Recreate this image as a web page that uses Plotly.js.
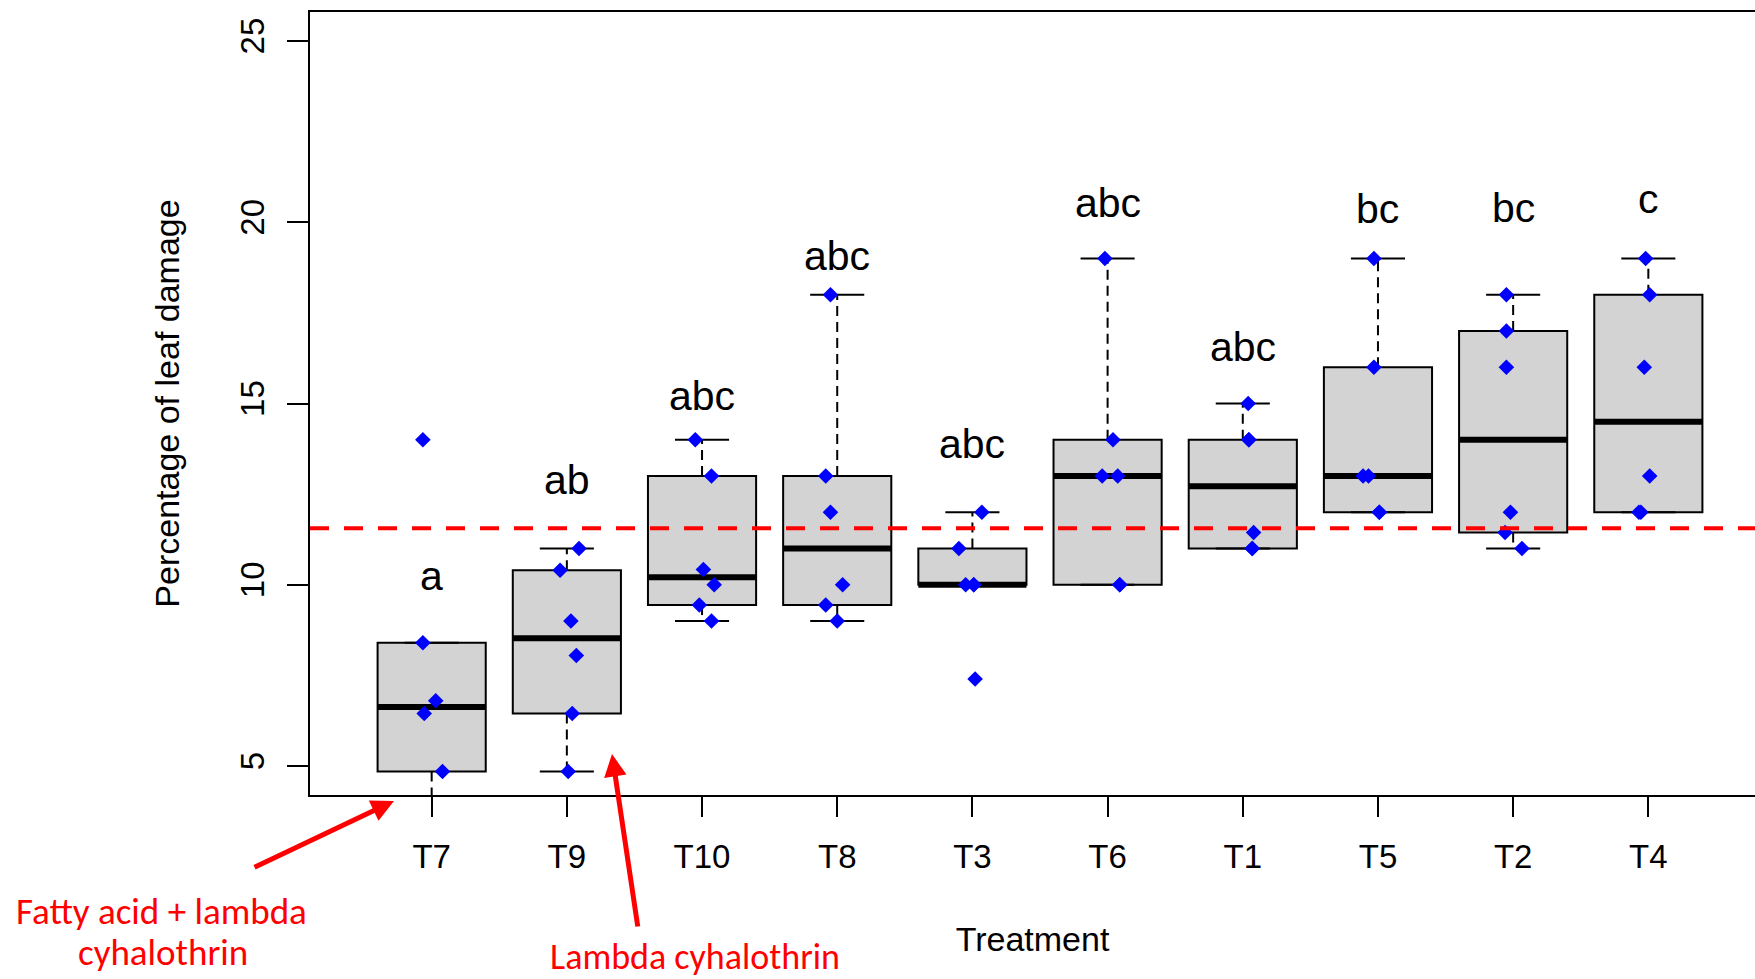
<!DOCTYPE html>
<html>
<head>
<meta charset="utf-8">
<script src="https://cdn.plot.ly/plotly-3.0.1.min.js"></script>
<style>
  html, body { margin: 0; padding: 0; background: #ffffff; }
  #chart { width: 1755px; height: 979px; }
</style>
</head>
<body>
<div id="chart"></div>
<script>
// ---------------- data ----------------
const treatments = ['T7', 'T9', 'T10', 'T8', 'T3', 'T6', 'T1', 'T5', 'T2', 'T4'];

// percentage of leaf damage, one replicate per value
const damageT7  = [3.5, 4.85, 6.45, 6.8, 8.4, 14];
const damageT9  = [4.85, 6.45, 8.05, 9.0, 10.4, 11];
const damageT10 = [9.0, 9.44, 10.0, 10.42, 13.0, 14.0];
const damageT8  = [9.0, 9.44, 10.0, 12.0, 13.0, 18.0];
const damageT3  = [7.4, 10, 10, 10, 11, 12];
const damageT6  = [10, 10, 13, 13, 14, 19];
const damageT1  = [11, 11, 11.44, 14, 14, 15];
const damageT5  = [12, 12, 13, 13, 16, 19];
const damageT2  = [11, 11.44, 12, 16, 17, 18];
const damageT4  = [12, 12, 13, 16, 18, 19];

// horizontal jitter of each replicate point (category units)
const jitterT7  = [0, 0.08, -0.055, 0.03, -0.065, -0.065];
const jitterT9  = [0.01, 0.04, 0.07, 0.03, -0.05, 0.09];
const jitterT10 = [0.07, -0.02, 0.09, 0.01, 0.07, -0.05];
const jitterT8  = [0, -0.085, 0.04, -0.05, -0.085, -0.05];
const jitterT3  = [0.02, -0.05, 0.01, 0.01, -0.10, 0.07];
const jitterT6  = [0.09, 0.09, -0.04, 0.075, 0.04, -0.02];
const jitterT1  = [0.07, 0.07, 0.08, 0.045, 0.045, 0.04];
const jitterT5  = [0.01, 0.01, -0.11, -0.07, -0.03, -0.03];
const jitterT2  = [0.065, -0.06, -0.02, -0.05, -0.05, -0.05];
const jitterT4  = [-0.07, -0.055, 0.01, -0.03, 0.01, -0.02];

// significance letters and the height of their baseline
const letters = ['a', 'ab', 'abc', 'abc', 'abc', 'abc', 'abc', 'bc', 'bc', 'c'];
const letterY = [9.82, 12.47, 14.78, 18.66, 13.47, 20.13, 16.14, 19.95, 19.97, 20.24];

// red dashed reference level
const referenceLevel = 11.56;

const yTicks = [5, 10, 15, 20, 25];

// ---------------- helpers ----------------
const damage = [damageT7, damageT9, damageT10, damageT8, damageT3, damageT6, damageT1, damageT5, damageT2, damageT4];
const jitter = [jitterT7, jitterT9, jitterT10, jitterT8, jitterT3, jitterT6, jitterT1, jitterT5, jitterT2, jitterT4];
const pos = treatments.map((_, i) => i + 1);

function fivenum(v) {
  const s = [...v].sort((a, b) => a - b);
  const n = s.length;
  const n4 = Math.floor((n + 3) / 2) / 2;
  const d = [1, n4, (n + 1) / 2, n + 1 - n4, n];
  return d.map(di => 0.5 * (s[Math.floor(di) - 1] + s[Math.ceil(di) - 1]));
}
const stats = damage.map(v => {
  const f = fivenum(v);
  const iqr = f[3] - f[1];
  const inside = v.filter(x => x >= f[1] - 1.5 * iqr && x <= f[3] + 1.5 * iqr);
  return { q1: f[1], med: f[2], q3: f[3], lo: Math.min(...inside), hi: Math.max(...inside) };
});

const BOXW = 0.8, CAPW = 0.4;

// whiskers (dashed)
const wx = [], wy = [];
stats.forEach((s, i) => {
  wx.push(pos[i], pos[i], null, pos[i], pos[i], null);
  wy.push(s.q3, s.hi, null, s.q1, s.lo, null);
});
// staples
const cx = [], cy = [];
stats.forEach((s, i) => {
  cx.push(pos[i] - CAPW / 2, pos[i] + CAPW / 2, null, pos[i] - CAPW / 2, pos[i] + CAPW / 2, null);
  cy.push(s.hi, s.hi, null, s.lo, s.lo, null);
});
// medians (thick)
const mx = [], my = [];
stats.forEach((s, i) => {
  mx.push(pos[i] - BOXW / 2, pos[i] + BOXW / 2, null);
  my.push(s.med, s.med, null);
});
// points
const px = [], py = [];
damage.forEach((v, i) => v.forEach((y, j) => { px.push(pos[i] + jitter[i][j]); py.push(y); }));

const traces = [
  { type: 'scatter', mode: 'lines', x: wx, y: wy, hoverinfo: 'skip',
    line: { color: '#000000', width: 2, dash: '10px,6px' } },
  { type: 'scatter', mode: 'lines', x: cx, y: cy, hoverinfo: 'skip',
    line: { color: '#000000', width: 2 } },
  { type: 'box', x: pos,
    q1: stats.map(s => s.q1), median: stats.map(s => s.med), q3: stats.map(s => s.q3),
    lowerfence: stats.map(s => s.q1), upperfence: stats.map(s => s.q3),
    width: BOXW, whiskerwidth: 0, boxpoints: false,
    fillcolor: '#D3D3D3', line: { color: '#000000', width: 2 } },
  { type: 'scatter', mode: 'lines', x: mx, y: my, hoverinfo: 'skip',
    line: { color: '#000000', width: 6 } },
  { type: 'scatter', mode: 'markers', x: px, y: py,
    marker: { symbol: 'diamond', size: 12, color: '#0000FF' } }
];

// ---------------- layout ----------------
const W = 1755, H = 979;
const M = { l: 310, r: 0, t: 12, b: 184 };
const plotW = W - M.l - M.r, plotH = H - M.t - M.b;
const paperX = p => (p - M.l) / plotW;
const paperY = p => (H - M.b - p) / plotH;

const tickFont = { family: 'Liberation Sans, Arial, sans-serif', size: 33, color: '#000000' };
const titleFont = { family: 'Liberation Sans, Arial, sans-serif', size: 34, color: '#000000' };

const annotations = letters.map((t, i) => ({
  x: pos[i], y: letterY[i], xref: 'x', yref: 'y', text: t, showarrow: false,
  xanchor: 'center', yanchor: 'bottom', yshift: -10,
  font: { family: 'Liberation Sans, Arial, sans-serif', size: 41, color: '#000000' }
}));

// red explanatory notes (one annotation per line), centre x and visual centre y in pixels
const redNotes = [
  { text: 'Fatty acid + lambda', cx: 161, cy: 911, size: 37 },
  { text: 'cyhalothrin', cx: 163, cy: 952, size: 37 },
  { text: 'Lambda cyhalothrin', cx: 695, cy: 957, size: 36 }
];
redNotes.forEach(n => annotations.push({
  xref: 'paper', yref: 'paper', x: paperX(n.cx), y: paperY(n.cy), text: n.text,
  showarrow: false, xanchor: 'center', yanchor: 'middle',
  font: { family: 'Carlito, Lato, sans-serif', size: n.size, color: '#FF0000' }
}));

annotations.push(
  { xref: 'paper', yref: 'paper', x: paperX(394), y: paperY(801), text: '',
    showarrow: true, arrowhead: 2, arrowsize: 0.9, arrowwidth: 5, arrowcolor: '#FF0000',
    axref: 'pixel', ayref: 'pixel', ax: -141, ay: 67, standoff: 0 },
  { xref: 'paper', yref: 'paper', x: paperX(612), y: paperY(754), text: '',
    showarrow: true, arrowhead: 2, arrowsize: 0.9, arrowwidth: 5, arrowcolor: '#FF0000',
    axref: 'pixel', ayref: 'pixel', ax: 26, ay: 174, standoff: 0 }
);

const layout = {
  width: W, height: H,
  margin: { l: M.l, r: M.r, t: M.t, b: M.b, pad: 0, autoexpand: false },
  paper_bgcolor: '#ffffff', plot_bgcolor: '#ffffff',
  showlegend: false, boxmode: 'overlay',
  xaxis: {
    range: [0.1, 10.789], tickmode: 'array', tickvals: pos, ticktext: treatments,
    ticks: 'outside', ticklen: 20, tickwidth: 2, tickcolor: '#000000',
    showline: true, linewidth: 2, linecolor: '#000000', mirror: true,
    showgrid: false, zeroline: false, automargin: false,
    tickfont: tickFont, ticklabelstandoff: 11,
    title: { text: 'Treatment', font: titleFont, standoff: 54 }
  },
  yaxis: {
    range: [4.2, 25.8], tickmode: 'array', tickvals: yTicks, ticktext: yTicks.map(String),
    ticks: 'outside', ticklen: 21, tickwidth: 2, tickcolor: '#000000', tickangle: -90,
    showline: true, linewidth: 2, linecolor: '#000000', mirror: false,
    showgrid: false, zeroline: false, automargin: false,
    tickfont: tickFont, ticklabelstandoff: 10,
    title: { text: 'Percentage of leaf damage', font: titleFont, standoff: 44 }
  },
  shapes: [
    { type: 'line', xref: 'paper', x0: 0, x1: 1, yref: 'y', y0: referenceLevel, y1: referenceLevel,
      line: { color: '#FF0000', width: 4, dash: '19px,15px' } }
  ],
  annotations: annotations
};

Plotly.newPlot('chart', traces, layout, { displayModeBar: false, responsive: false });
</script>
</body>
</html>
